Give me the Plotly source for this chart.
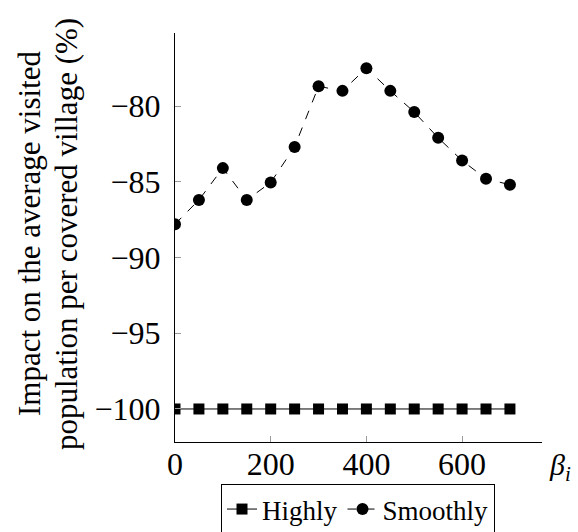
import plotly.graph_objects as go

beta = [0, 50, 100, 150, 200, 250, 300, 350, 400, 450, 500, 550, 600, 650, 700]
highly = [-100] * 15
smoothly = [-87.8, -86.2, -84.1, -86.2, -85.05, -82.7, -78.7, -79.0, -77.5, -79.0, -80.4, -82.1, -83.6, -84.8, -85.2]
title_lines = ["Impact on the average visited", "population per covered village (%)"]

FONT = "'Liberation Serif', 'Times New Roman', Times, serif"

L, R, T, B = 175, 36, 33, 90
PW, PH = 578 - L - R, 532 - T - B


def px(xp):
    return (xp - L) / PW


def py(yp):
    return (532 - B - yp) / PH


fig = go.Figure()
fig.add_trace(go.Scatter(x=beta, y=highly, name="Highly", mode="lines+markers",
                         line=dict(color="black", width=1),
                         marker=dict(symbol="square", size=11, color="black")))
fig.add_trace(go.Scatter(x=beta, y=smoothly, name="Smoothly", mode="lines+markers",
                         line=dict(color="black", width=1, dash="dash"),
                         marker=dict(symbol="circle", size=12, color="black")))

annotations = []
for xc, txt in zip([29, 66], title_lines):
    annotations.append(dict(text=txt, xref="paper", yref="paper",
                            x=px(xc), y=py(234), textangle=-90,
                            showarrow=False, xanchor="center", yanchor="middle",
                            font=dict(family=FONT, size=31)))
annotations.append(dict(text="<i>β<sub>i</sub></i>", xref="paper", yref="paper",
                        x=px(560), y=py(467), showarrow=False,
                        xanchor="center", yanchor="middle", font=dict(family=FONT, size=30)))

fig.update_layout(
    width=578, height=532,
    margin=dict(l=L, r=R, t=T, b=B, autoexpand=False),
    plot_bgcolor="white", paper_bgcolor="white",
    font=dict(family=FONT, size=32, color="black"),
    showlegend=True,
    legend=dict(orientation="h", x=px(358), xanchor="center", y=py(484), yanchor="top",
                bordercolor="black", borderwidth=1, font=dict(size=27),
                itemwidth=30, tracegroupgap=0),
    xaxis=dict(range=[0, 767], tickvals=[0, 200, 400, 600], ticks="inside",
               ticklen=6, tickcolor="#999999", showline=True, linecolor="black",
               linewidth=1, showgrid=False, zeroline=False, mirror=False,
               ticklabelstandoff=-6),
    yaxis=dict(range=[-102.18, -75.18], tickvals=[-100, -95, -90, -85, -80], ticks="inside",
               ticklen=6, tickcolor="#999999", showline=True, linecolor="black",
               linewidth=1, showgrid=False, zeroline=False, mirror=False,
               ticklabelstandoff=7),
    annotations=annotations,
)

fig.write_html("out.html", config={"displayModeBar": False},
               post_script="document.body.style.margin='0';document.body.style.padding='0';")
